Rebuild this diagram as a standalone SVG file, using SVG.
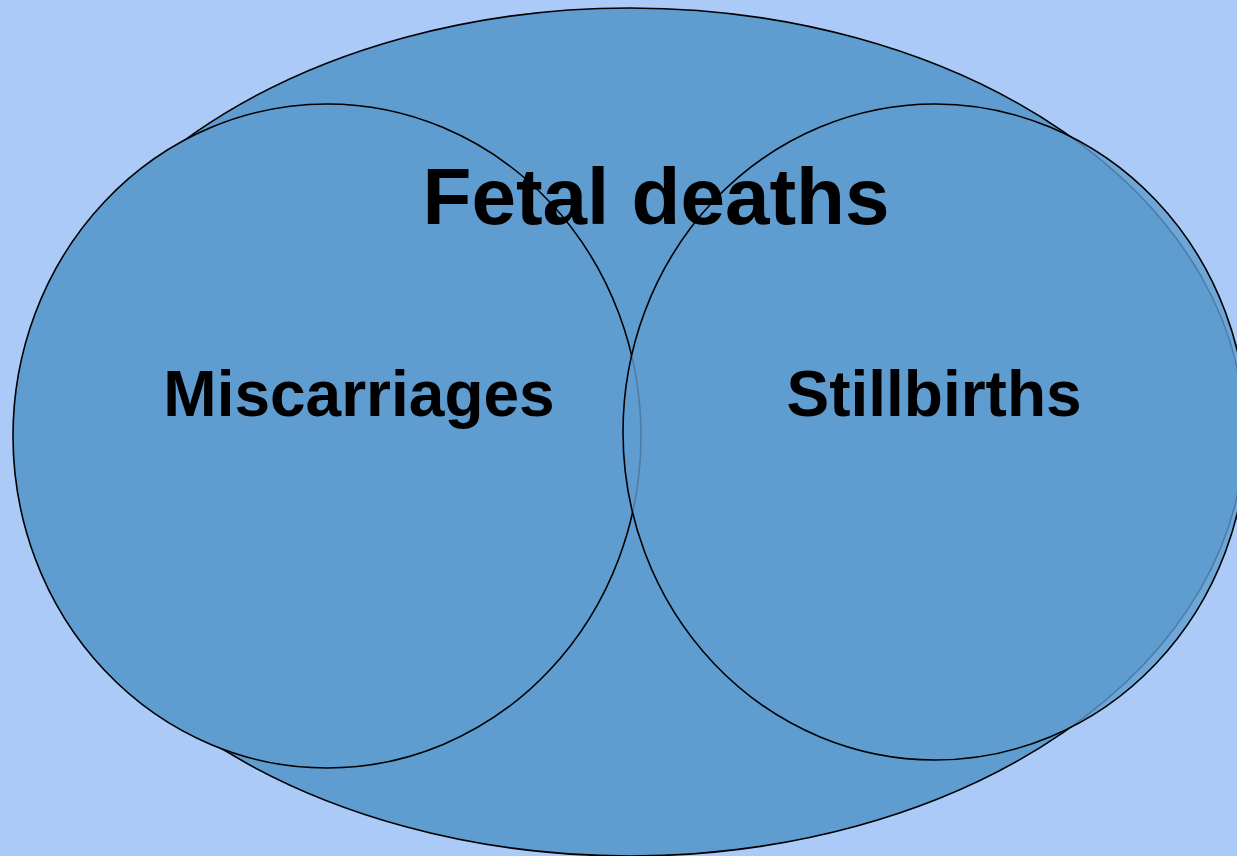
<svg xmlns="http://www.w3.org/2000/svg" width="1237" height="856" viewBox="0 0 1237 856">
  <style>
    .shape { fill: #5f9ccf; stroke: #000000; stroke-width: 1.6; }
    .translucent { fill-opacity: 0.8; }
    .label { font-family: "Liberation Sans", Arial, sans-serif; font-weight: bold; fill: #000000; text-anchor: middle; }
  </style>
  <rect x="0" y="0" width="1237" height="856" fill="#abcaf7"/>
  <g id="fetal-deaths">
    <ellipse class="shape" cx="630" cy="432" rx="614" ry="424"/>
  </g>
  <g id="miscarriages">
    <ellipse class="shape" cx="327" cy="436" rx="314" ry="332"/>
  </g>
  <g id="stillbirths">
    <ellipse class="shape translucent" cx="935" cy="432" rx="312" ry="328"/>
  </g>
  <g id="labels">
    <text class="label" x="656" y="224" font-size="80">Fetal deaths</text>
    <text class="label" x="359" y="416" font-size="64">Miscarriages</text>
    <text class="label" x="934" y="416" font-size="64">Stillbirths</text>
  </g>
  <g id="connectors"></g>
</svg>
